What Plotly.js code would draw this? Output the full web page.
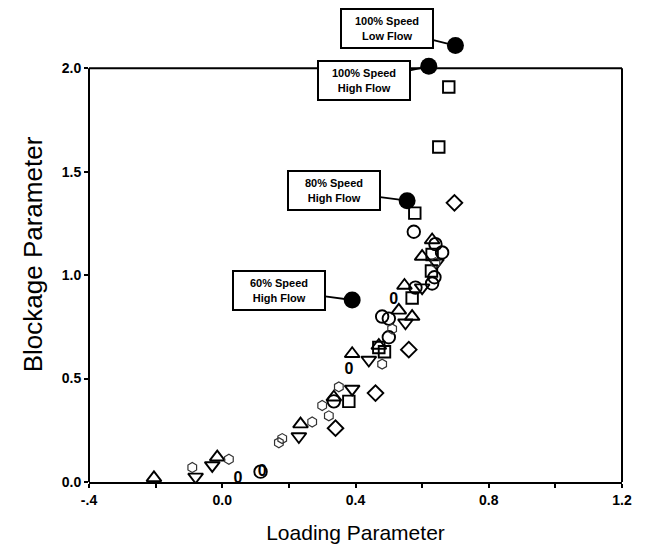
<!DOCTYPE html>
<html>
<head>
<meta charset="utf-8">
<script src="https://cdn.plot.ly/plotly-3.0.1.min.js"></script>
<style>html,body{margin:0;padding:0;background:#fff;}#chart{width:649px;height:550px;}</style>
</head>
<body>
<div id="chart"></div>
<script>
// ---- data ----
var xTickVals = [-0.4, -0.2, 0.0, 0.2, 0.4, 0.6, 0.8, 1.0, 1.2];
var xTickText = ['-.4', '', '0.0', '', '0.4', '', '0.8', '', '1.2'];
var yTickVals = [0.0, 0.5, 1.0, 1.5, 2.0];
var yTickText = ['0.0', '0.5', '1.0', '1.5', '2.0'];

var squareX = [0.68, 0.65, 0.578, 0.63, 0.628, 0.57, 0.487, 0.47, 0.38];
var squareY = [1.91, 1.62, 1.30, 1.10, 1.02, 0.89, 0.63, 0.65, 0.39];

var circleX = [0.575, 0.64, 0.66, 0.637, 0.63, 0.58, 0.48, 0.50, 0.50, 0.115, 0.335];
var circleY = [1.21, 1.15, 1.11, 0.99, 0.96, 0.94, 0.80, 0.79, 0.70, 0.05, 0.39];

var diamondX = [0.697, 0.56, 0.46, 0.34];
var diamondY = [1.35, 0.64, 0.43, 0.26];

var triUpX = [-0.205, -0.015, 0.235, 0.39, 0.335, 0.547, 0.60, 0.63, 0.53, 0.57, 0.47];
var triUpY = [0.02, 0.12, 0.28, 0.62, 0.41, 0.95, 1.09, 1.17, 0.83, 0.80, 0.66];

var triDownX = [-0.08, -0.03, 0.23, 0.39, 0.55, 0.44, 0.643, 0.60];
var triDownY = [0.025, 0.08, 0.22, 0.45, 0.77, 0.59, 1.06, 0.94];

var ovalX = [0.047, 0.38, 0.515, 0.12];
var ovalY = [0.015, 0.54, 0.88, 0.05];

var dottedX = [-0.09, 0.02, 0.17, 0.18, 0.27, 0.30, 0.32, 0.35, 0.48, 0.51, 0.64];
var dottedY = [0.07, 0.11, 0.19, 0.21, 0.29, 0.37, 0.32, 0.46, 0.57, 0.74, 1.06];

var filledX = [0.70, 0.62, 0.555, 0.39];
var filledY = [2.11, 2.01, 1.36, 0.88];
var filledLabels = ['100% Speed<br>Low Flow', '100% Speed<br>High Flow', '80% Speed<br>High Flow', '60% Speed<br>High Flow'];

var frameTop = 2.0;

// ---- layout helpers (label box offsets in pixels) ----
var labelAx = [-68, -65, -73, -73];
var labelAy = [-17, 14, -10, -10];

var FONT = 'Liberation Sans, Arial, Helvetica, sans-serif';

function openTrace(x, y, symbol, size) {
  return {
    x: x, y: y, type: 'scatter', mode: 'markers', hoverinfo: 'skip',
    marker: {symbol: symbol, size: size, color: '#000', line: {color: '#000', width: 1.9}}
  };
}

var traces = [
  openTrace(squareX, squareY, 'square-open', 11.5),
  openTrace(circleX, circleY, 'circle-open', 12.5),
  openTrace(diamondX, diamondY, 'diamond-open', 12),
  openTrace(triUpX, triUpY, 'triangle-up-open', 13),
  openTrace(triDownX, triDownY, 'triangle-down-open', 13),
  {
    x: dottedX, y: dottedY, type: 'scatter', mode: 'markers', hoverinfo: 'skip',
    marker: {symbol: 'hexagon-open', size: 10, color: '#333', line: {color: '#333', width: 1.2}}
  },
  {
    x: ovalX, y: ovalY, type: 'scatter', mode: 'text', hoverinfo: 'skip',
    text: ovalX.map(function(){return '0';}),
    textposition: 'middle center',
    textfont: {family: FONT, size: 16, color: 'black', weight: 'bold'}
  },
  {
    x: filledX, y: filledY, type: 'scatter', mode: 'markers', hoverinfo: 'skip', cliponaxis: false,
    marker: {symbol: 'circle', size: 17, color: '#000'}
  }
];

var annotations = filledX.map(function(x, i) {
  return {
    x: x, y: filledY[i], xref: 'x', yref: 'y',
    text: filledLabels[i], showarrow: true, arrowhead: 0, arrowwidth: 1.8, arrowcolor: '#000',
    ax: labelAx[i], ay: labelAy[i], standoff: 0,
    bordercolor: '#000', borderwidth: 2, bgcolor: '#fff', borderpad: 3,
    width: 84, height: 31, align: 'center',
    font: {family: FONT, size: 11, color: '#000', weight: 'bold'}
  };
});

var frameLine = {color: '#000', width: 2};
var shapes = [
  {type: 'line', xref: 'paper', yref: 'y', x0: 0, x1: 0, y0: 0, y1: frameTop, line: frameLine, layer: 'below'},
  {type: 'line', xref: 'paper', yref: 'y', x0: 1, x1: 1, y0: 0, y1: frameTop, line: frameLine, layer: 'below'},
  {type: 'line', xref: 'paper', yref: 'y', x0: 0, x1: 1, y0: frameTop, y1: frameTop, line: frameLine, layer: 'below'}
];

var layout = {
  width: 649, height: 550,
  margin: {l: 89, r: 27, t: 27, b: 68},
  paper_bgcolor: '#fff', plot_bgcolor: '#fff',
  showlegend: false,
  font: {family: FONT, color: '#000'},
  xaxis: {
    range: [-0.4, 1.2], tickvals: xTickVals, ticktext: xTickText,
    showgrid: false, zeroline: false, showline: true, linewidth: 2, linecolor: '#000', mirror: false,
    ticks: 'outside', ticklen: 4, tickwidth: 2, tickcolor: '#000',
    tickfont: {family: FONT, size: 14, color: '#000', weight: 'bold'},
    title: {text: 'Loading Parameter', font: {family: FONT, size: 21, color: '#000'}, standoff: 19}
  },
  yaxis: {
    range: [0, 2.2], tickvals: yTickVals, ticktext: yTickText,
    showgrid: false, zeroline: false, showline: false,
    ticks: 'outside', ticklen: 4, tickwidth: 2, tickcolor: '#000',
    tickfont: {family: FONT, size: 14, color: '#000', weight: 'bold'},
    title: {text: 'Blockage Parameter', font: {family: FONT, size: 26, color: '#000'}, standoff: 11}
  },
  shapes: shapes,
  annotations: annotations
};

Plotly.newPlot('chart', traces, layout, {displayModeBar: false, staticPlot: true});
</script>
</body>
</html>
